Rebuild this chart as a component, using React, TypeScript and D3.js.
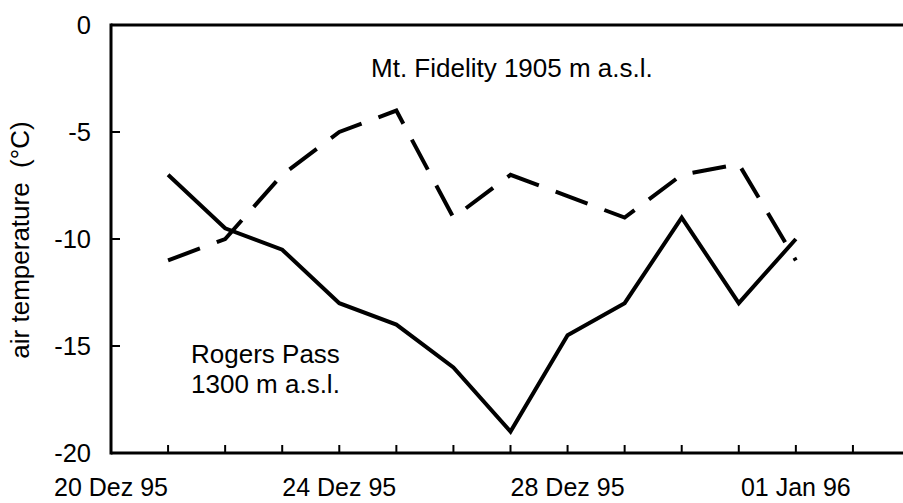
import * as d3 from "d3";

const days = [
  "1995-12-21", "1995-12-22", "1995-12-23", "1995-12-24", "1995-12-25", "1995-12-26",
  "1995-12-27", "1995-12-28", "1995-12-29", "1995-12-30", "1995-12-31", "1996-01-01",
];
const rogersPass = [-7, -9.5, -10.5, -13, -14, -16, -19, -14.5, -13, -9, -13, -10];
const mtFidelity = [-11, -10, -7, -5, -4, -9, -7, -8, -9, -7, -6.5, -11];

const tickDays = [
  "1995-12-21", "1995-12-22", "1995-12-23", "1995-12-24", "1995-12-25", "1995-12-26",
  "1995-12-27", "1995-12-28", "1995-12-29", "1995-12-30", "1995-12-31", "1996-01-01",
  "1996-01-02",
];
const labelDays = ["1995-12-20", "1995-12-24", "1995-12-28", "1996-01-01"];
const tickLabels = ["20 Dez 95", "24 Dez 95", "28 Dez 95", "01 Jan 96"];
const yTicks = [0, -5, -10, -15, -20];

const W = 903;
const H = 503;
const FONT = "'Liberation Sans', Arial, sans-serif";

const parse = d3.utcParse("%Y-%m-%d");

export default function App() {
  const x = d3
    .scaleUtc()
    .domain([parse("1995-12-20")!, parse("1996-01-03")!])
    .range([111, 910]);
  const y = d3.scaleLinear().domain([-20, 0]).range([453, 25]);

  const line = d3
    .line<number>()
    .x((_, i) => x(parse(days[i])!))
    .y((d) => y(d));

  const left = x.range()[0];
  const bottom = y(-20);
  const top = y(0);

  return (
    <svg
      width={W}
      height={H}
      style={{ position: "absolute", left: 0, top: 0, background: "#fff" }}
      fontFamily={FONT}
    >
      {/* frame */}
      <line x1={left} x2={W} y1={top} y2={top} stroke="#000" strokeWidth={3} />
      <line x1={left} x2={left} y1={top - 1.5} y2={bottom + 1.5} stroke="#000" strokeWidth={3} />
      <line x1={left} x2={W} y1={bottom} y2={bottom} stroke="#000" strokeWidth={3} />

      {/* y ticks */}
      {yTicks.map((t) => (
        <g key={t}>
          {t !== 0 && t !== -20 && (
            <line x1={left} x2={left + 9} y1={y(t)} y2={y(t)} stroke="#000" strokeWidth={2} />
          )}
          <text x={91} y={y(t)} dy="0.36em" textAnchor="end" fontSize={25.5}>
            {t}
          </text>
        </g>
      ))}

      {/* x ticks */}
      {tickDays.map((d) => (
        <line
          key={d}
          x1={x(parse(d)!)}
          x2={x(parse(d)!)}
          y1={bottom}
          y2={bottom - 8}
          stroke="#000"
          strokeWidth={2}
        />
      ))}
      {labelDays.map((d, i) => (
        <text key={d} x={x(parse(d)!)} y={496} textAnchor="middle" fontSize={25}>
          {tickLabels[i]}
        </text>
      ))}

      {/* y axis title */}
      <text
        transform={`translate(29,${(top + bottom) / 2 + 1}) rotate(-90)`}
        textAnchor="middle"
        fontSize={26}
        style={{ whiteSpace: "pre" }}
      >
        {"air temperature  (°C)"}
      </text>

      {/* series */}
      <path
        d={line(mtFidelity) ?? ""}
        fill="none"
        stroke="#000"
        strokeWidth={4}
        strokeDasharray="34,18"
        strokeLinejoin="miter"
      />
      <path d={line(rogersPass) ?? ""} fill="none" stroke="#000" strokeWidth={4} strokeLinejoin="miter" />

      {/* series labels */}
      <text x={371} y={77} fontSize={26}>
        Mt. Fidelity 1905 m a.s.l.
      </text>
      <text x={191} y={363} fontSize={26}>
        Rogers Pass
      </text>
      <text x={191} y={393} fontSize={26}>
        1300 m a.s.l.
      </text>
    </svg>
  );
}
